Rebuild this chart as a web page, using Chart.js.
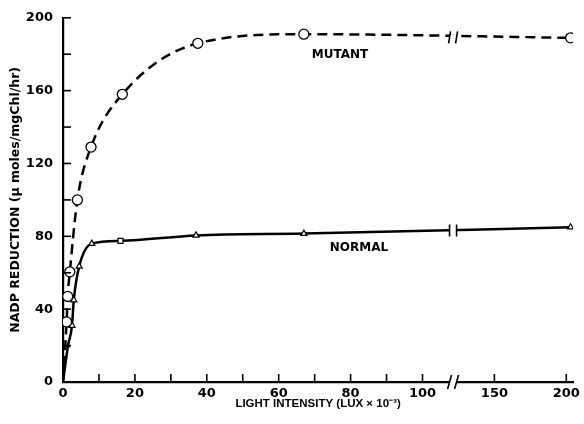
<!DOCTYPE html>
<html><head><meta charset="utf-8">
<script src="https://cdn.jsdelivr.net/npm/chart.js@4"></script>
<style>html,body{margin:0;padding:0;background:#fff}#wrap{width:584px;height:424px}</style>
</head><body><div id="wrap"><canvas id="c" width="584" height="424"></canvas></div>
<script>
// ---- data ----
const mutantX = [0, 1.0, 1.3, 1.9, 4, 7.8, 16.5, 37.5, 67, 203];
const mutantY = [0, 33, 47, 60.5, 100, 129, 158, 186, 191, 189];
const normalX = [0, 1.4, 2.5, 3, 4.5, 8, 16, 37, 67, 203];
const normalY = [0, 20, 31, 45, 63.5, 76, 77.5, 80.5, 81.5, 85];
const xTickValues = [0, 10, 20, 30, 40, 50, 60, 70, 80, 90, 100, 150, 200];
const xTickLabels = ['0', '', '20', '', '40', '', '60', '', '80', '', '100', '150', '200'];
const yTickValues = [0, 20, 40, 60, 80, 100, 120, 140, 160, 180, 200];
const yTickLabels = ['0', '', '40', '', '80', '', '120', '', '160', '', '200'];
const seriesNames = ['MUTANT', 'NORMAL'];

// broken axis: above 100 the scale is compressed
const BREAK = 100, COMP = 0.4;
function tx(x) { return x <= BREAK ? x : BREAK + (x - BREAK) * COMP; }
const xTickPos = xTickValues.map(tx);

const FONT = 'DejaVu Sans';

const inwardTicks = {
  id: 'inwardTicks',
  afterDraw(chart) {
    const c = chart.ctx, xs = chart.scales.x, ys = chart.scales.y;
    const a = chart.chartArea;
    c.save();
    c.strokeStyle = '#000'; c.lineWidth = 1.6;
    yTickValues.forEach(v => {
      const p = ys.getPixelForValue(v);
      c.beginPath(); c.moveTo(a.left, p); c.lineTo(a.left + 8, p); c.stroke();
    });
    xTickPos.forEach(v => {
      const p = xs.getPixelForValue(v);
      c.beginPath(); c.moveTo(p, a.bottom); c.lineTo(p, a.bottom - 8); c.stroke();
    });
    // axis break marks
    const bx = xs.getPixelForValue(108.5);
    const gap = 7;
    function brk(y, len, slant) {
      c.fillStyle = '#fff';
      c.fillRect(bx - gap / 2, y - 3, gap, 6);
      c.strokeStyle = '#000'; c.lineWidth = 1.6;
      [-gap / 2, gap / 2].forEach(o => {
        c.beginPath();
        c.moveTo(bx + o - slant, y - len);
        c.lineTo(bx + o + slant, y + len);
        c.stroke();
      });
    }
    brk(a.bottom, 7, -2);
    brk(ys.getPixelForValue(189.3), 6, -1);
    brk(ys.getPixelForValue(83.2), 6, 0);
    // series labels
    c.fillStyle = '#000';
    c.font = 'bold 12px ' + FONT;
    c.textAlign = 'center'; c.textBaseline = 'middle';
    c.fillText(seriesNames[0], 340, 55);
    c.fillText(seriesNames[1], 359, 248);
    c.restore();
  }
};

const mutantData = mutantX.map((x, i) => ({x: tx(x), y: mutantY[i]}));
const normalData = normalX.map((x, i) => ({x: tx(x), y: normalY[i]}));

new Chart(document.getElementById('c'), {
  type: 'line',
  data: {
    datasets: [
      {
        label: seriesNames[0], data: mutantData,
        borderColor: '#000', borderWidth: 2.5, borderDash: [10, 6],
        cubicInterpolationMode: 'monotone',
        pointStyle: 'circle',
        pointRadius: ctx => ctx.dataIndex === 0 ? 0 : 5,
        pointBackgroundColor: '#fff', pointBorderColor: '#000', pointBorderWidth: 1.3
      },
      {
        label: seriesNames[1], data: normalData,
        borderColor: '#000', borderWidth: 2.5,
        cubicInterpolationMode: 'monotone',
        pointStyle: ctx => ctx.dataIndex === 6 ? 'rect' : 'triangle',
        pointRadius: ctx => ctx.dataIndex === 0 ? 0 : (ctx.dataIndex === 1 ? 2 : 3.5),
        pointBackgroundColor: '#fff', pointBorderColor: '#000', pointBorderWidth: 1.2
      }
    ]
  },
  options: {
    responsive: false, animation: false,
    layout: {padding: {top: 17, right: 10, left: 0, bottom: 0}},
    plugins: {legend: {display: false}, tooltip: {enabled: false}},
    scales: {
      x: {
        type: 'linear', min: 0, max: 141.9,
        afterBuildTicks: s => { s.ticks = xTickPos.map(v => ({value: v})); },
        afterFit: s => { s.height = 42; },
        ticks: {
          autoSkip: false, maxRotation: 0, padding: 4, color: '#000',
          font: {family: FONT, weight: 'bold', size: 13},
          callback: (v) => { const i = xTickPos.indexOf(v); return i >= 0 ? xTickLabels[i] : ''; }
        },
        grid: {display: true, drawOnChartArea: false, drawTicks: false},
        border: {display: true, color: '#000', width: 2.2},
        title: {display: true, text: 'LIGHT INTENSITY (LUX × 10⁻³)', color: '#000',
          font: {family: 'Liberation Sans', weight: 'bold', size: 11.5}, padding: {top: 0, bottom: 13}}
      },
      y: {
        min: 0, max: 200,
        afterBuildTicks: s => { s.ticks = yTickValues.map(v => ({value: v})); },
        afterFit: s => { s.width = 63; },
        ticks: {
          autoSkip: false, padding: 10, color: '#000',
          font: {family: FONT, weight: 'bold', size: 13},
          callback: (v) => { const i = yTickValues.indexOf(v); return i >= 0 ? yTickLabels[i] : ''; }
        },
        grid: {display: true, drawOnChartArea: false, drawTicks: false},
        border: {display: true, color: '#000', width: 2.2},
        title: {display: true, text: 'NADP REDUCTION (µ moles/mgChl/hr)', color: '#000',
          font: {family: FONT, weight: 'bold', size: 12.5}, padding: {top: 8, bottom: 0}}
      }
    }
  },
  plugins: [inwardTicks]
});
</script></body></html>
